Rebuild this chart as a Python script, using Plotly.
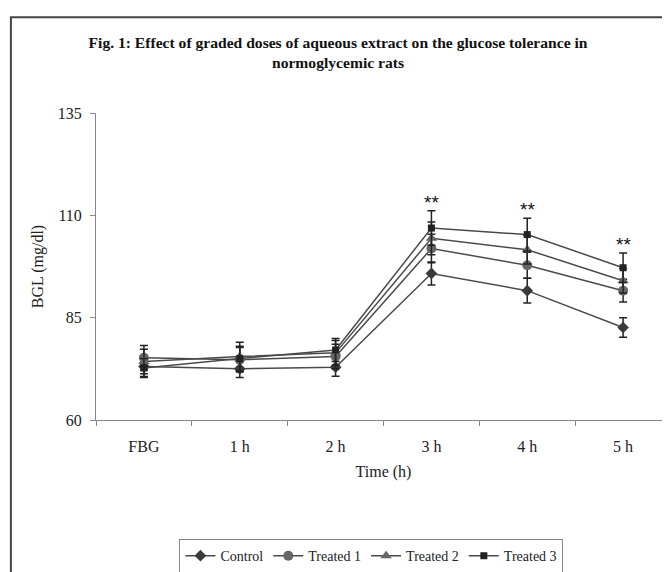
import plotly.graph_objects as go

categories = ["FBG", "1 h", "2 h", "3 h", "4 h", "5 h"]
series_names = ["Control", "Treated 1", "Treated 2", "Treated 3"]
control = [73.1, 72.5, 72.9, 95.8, 91.6, 82.6]
control_err = [2.5, 2.1, 2.2, 2.8, 3.0, 2.4]
treated1 = [75.2, 74.7, 75.5, 101.9, 97.8, 91.6]
treated1_err = [3.0, 3.0, 3.0, 3.5, 3.2, 2.8]
treated2 = [74.3, 75.5, 76.4, 104.4, 101.6, 94.0]
treated2_err = [3.0, 3.5, 3.0, 4.0, 3.5, 3.0]
treated3 = [72.7, 75.0, 77.1, 106.9, 105.3, 97.2]
treated3_err = [2.3, 3.0, 2.8, 4.2, 4.0, 3.6]
signif_labels = ["", "", "", "**", "**", "**"]
y_ticks = [60, 85, 110, 135]

values = [control, treated1, treated2, treated3]
errors = [control_err, treated1_err, treated2_err, treated3_err]
symbols = ["diamond", "circle", "triangle-up", "square"]
msizes = [9, 10, 10, 7]
mcolors = ["#3a3a3a", "#666666", "#666666", "#222222"]

SERIF = "Liberation Serif, Times New Roman, serif"

fig = go.Figure()
for name, v, e, s, ms, mc in zip(series_names, values, errors, symbols, msizes, mcolors):
    fig.add_trace(go.Scatter(
        x=categories, y=v, name=name, mode="lines+markers",
        line=dict(color="#4a4a4a", width=1.5),
        marker=dict(symbol=s, size=ms, color=mc, line=dict(width=0)),
        error_y=dict(type="data", array=e, visible=True, color="#222222",
                     thickness=1.5, width=4),
    ))

for cat, lab, v, e in zip(categories, signif_labels, treated3, treated3_err):
    if lab:
        fig.add_annotation(x=cat, y=v + e, text=lab, showarrow=False,
                           yanchor="bottom", yshift=-4,
                           font=dict(family="Liberation Sans, Arial, sans-serif",
                                     size=19, color="#111111"))

fig.add_shape(type="rect", xref="paper", yref="paper",
              x0=-0.148, x1=1.05, y0=-0.6, y1=1.312,
              line=dict(color="#444444", width=2), fillcolor="rgba(0,0,0,0)",
              layer="below")

fig.update_layout(
    width=670, height=572,
    margin=dict(l=88, r=7, t=105, b=153),
    paper_bgcolor="white", plot_bgcolor="white",
    font=dict(family=SERIF, size=16, color="#222222"),
    title=dict(
        text="<b>Fig. 1: Effect of graded doses of aqueous extract on the glucose tolerance in<br>normoglycemic rats</b>",
        x=330 / 670, xanchor="center", y=1 - 40 / 572, yanchor="top",
        font=dict(family=SERIF, size=15.6, color="#111111"),
    ),
    showlegend=True,
    legend=dict(
        orientation="h", x=0.479, xanchor="center", y=-0.388, yanchor="top",
        bordercolor="#888888", borderwidth=1, bgcolor="white",
        font=dict(family=SERIF, size=14, color="#222222"),
        itemwidth=30, tracegroupgap=0,
    ),
    xaxis=dict(
        type="category", range=[-0.5, 5.5], tickson="boundaries",
        ticks="outside", ticklen=5, tickcolor="#888888",
        showline=True, linecolor="#888888", linewidth=1, automargin=False,
        showgrid=False, zeroline=False, ticklabelstandoff=12,
        title=dict(text="Time (h)", standoff=11, font=dict(family=SERIF, size=16)),
    ),
    yaxis=dict(
        range=[60, 135], tickvals=y_ticks, ticks="outside", ticklen=5,
        tickcolor="#888888", showline=True, linecolor="#888888", linewidth=1,
        showgrid=False, zeroline=False, ticklabelstandoff=5, automargin=False,
        title=dict(text="BGL (mg/dl)", standoff=10, font=dict(family=SERIF, size=16)),
    ),
)

fig.write_html("out.html")
